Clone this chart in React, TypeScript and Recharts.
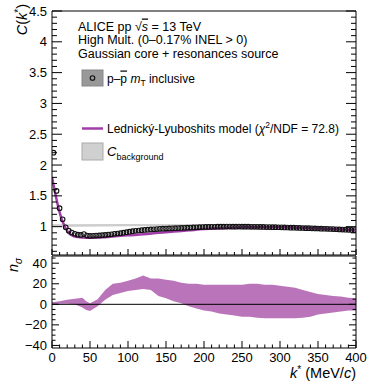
import { ComposedChart, Scatter, Line, Area, XAxis, YAxis, ReferenceLine } from 'recharts';

// bin centres of the p-pbar correlation (4 MeV/c bins)
const corrValues = [
  2.2, 1.58, 1.3, 1.12, 0.99, 0.935, 0.905, 0.885, 0.87, 0.865,
  0.88, 0.855, 0.85, 0.852, 0.855, 0.858, 0.862, 0.866, 0.872, 0.877,
  0.883, 0.889, 0.895, 0.903, 0.91, 0.918, 0.926, 0.933, 0.938, 0.943,
  0.947, 0.951, 0.955, 0.958, 0.961, 0.964, 0.967, 0.969, 0.971, 0.973,
  0.975, 0.977, 0.979, 0.981, 0.983, 0.985, 0.987, 0.99, 0.992, 0.994,
  0.995, 0.996, 0.997, 0.998, 0.999, 1.0, 1.0, 1.001, 1.001, 1.0,
  1.0, 1.001, 1.0, 0.999, 0.999, 0.998, 0.998, 0.997, 0.996, 0.995,
  0.994, 0.993, 0.992, 0.991, 0.99, 0.989, 0.987, 0.986, 0.984, 0.983,
  0.981, 0.98, 0.978, 0.976, 0.975, 0.973, 0.971, 0.97, 0.968, 0.966,
  0.964, 0.962, 0.96, 0.958, 0.955, 0.953, 0.951, 0.949, 0.947, 0.945,
];
const binWidth = 4;

const modelK = [0, 3, 6, 9, 12, 15, 18, 22, 26, 30, 35, 40, 50, 60, 70, 80, 100, 120, 140, 160, 180, 200, 230, 260, 300, 330, 360, 400];
const modelC = [1.8, 1.62, 1.44, 1.28, 1.15, 1.05, 0.97, 0.9, 0.86, 0.84, 0.83, 0.825, 0.82, 0.822, 0.83, 0.84, 0.86, 0.875, 0.9, 0.92, 0.94, 0.96, 0.98, 0.99, 0.99, 0.98, 0.965, 0.94];

const bgK = [0, 100, 200, 300, 400];
const bgLow = [0.995, 1.005, 1.005, 0.99, 0.955];
const bgHigh = [1.04, 1.045, 1.04, 1.025, 0.99];

const nsK = [0, 10, 20, 30, 40, 45, 50, 60, 70, 80, 90, 100, 110, 120, 130, 140, 150, 160, 170, 180, 190, 200, 210, 220, 230, 240, 250, 260, 270, 280, 290, 300, 310, 320, 330, 340, 350, 360, 370, 380, 390, 400];
const nsLow = [0, 0.5, 0.5, 0, -3, -5.5, -6.5, -2, 4.5, 9, 11, 13, 14, 15, 14, 8, 6, 3, 1, -2, -4, -6, -7, -9, -10, -11, -12, -12, -13, -13.5, -13.5, -13.5, -13.5, -13.5, -13, -12, -10, -9, -8, -7, -6, -6];
const nsHigh = [2, 3, 4.5, 5.5, 6.5, 3, 1, 5, 14, 20, 21, 23, 25, 28, 25, 25, 24, 23, 21, 20, 20, 19, 19, 19, 19, 19, 19, 20, 20, 19, 19, 18, 17, 16, 14, 12, 10, 9, 8, 7.5, 6.5, 6];

const kMajor = [0, 50, 100, 150, 200, 250, 300, 350, 400];
const cMajor = [1, 1.5, 2, 2.5, 3, 3.5, 4, 4.5];
const nsMajor = [-40, -20, 0, 20, 40];

const range = (a: number, b: number, s: number) => {
  const out: number[] = [];
  for (let v = a; v <= b + 1e-9; v += s) out.push(Math.round(v * 1000) / 1000);
  return out;
};
const kTicks = range(0, 400, 10);
const cTicks = range(0.6, 4.5, 0.1);
const nsTicks = range(-40, 45, 5);

const corrData = corrValues.map((c, i) => ({ k: binWidth / 2 + binWidth * i, c }));
const modelData = modelK.map((k, i) => ({ k, c: modelC[i] }));
const bgData = bgK.map((k, i) => ({ k, lo: bgLow[i], hi: bgHigh[i] }));
const nsData = nsK.map((k, i) => ({ k, lo: nsLow[i], hi: nsHigh[i] }));

const FONT = 'Liberation Sans, Arial, Helvetica, sans-serif';
const PURPLE = '#a23ca8';

const isIn = (v: number, list: number[]) => list.some((m) => Math.abs(m - v) < 1e-6);
const fmt = (v: number) => (v < 0 ? '\u2212' + String(-v) : String(v));

type Side = 'left' | 'right' | 'top' | 'bottom';
function makeTick(side: Side, majors: number[], big: number, small: number, labels: boolean) {
  return (props: any) => {
    const { x, y, payload } = props;
    const v = payload.value;
    const major = isIn(v, majors);
    const len = major ? big : small;
    let line;
    if (side === 'left') line = <line x1={x} x2={x + len} y1={y} y2={y} stroke="#000" />;
    else if (side === 'right') line = <line x1={x} x2={x - len} y1={y} y2={y} stroke="#000" />;
    else if (side === 'top') line = <line x1={x} x2={x} y1={y} y2={y + len} stroke="#000" />;
    else line = <line x1={x} x2={x} y1={y} y2={y - len} stroke="#000" />;
    let label = null;
    if (labels && major) {
      if (side === 'left')
        label = (
          <text x={x - 5} y={y + 4.5} textAnchor="end" fontSize={13} fontFamily={FONT} fill="#000">
            {fmt(v)}
          </text>
        );
      else if (side === 'bottom')
        label = (
          <text x={x} y={y + 14} textAnchor="middle" fontSize={13} fontFamily={FONT} fill="#000">
            {fmt(v)}
          </text>
        );
    }
    return (
      <g>
        {line}
        {label}
      </g>
    );
  };
}

const OpenCircle = (props: any) => {
  const { cx, cy } = props;
  if (cx == null || cy == null) return null;
  return <circle cx={cx} cy={cy} r={2.3} fill="none" stroke="#111" strokeWidth={1.1} />;
};

const axisLine = { stroke: '#000', strokeWidth: 1 };

export default function App() {
  return (
    <div style={{ position: 'absolute', left: 0, top: 0, width: 374, height: 386, background: '#fff' }}>
      <div style={{ position: 'absolute', left: 0, top: 0 }}>
        <ComposedChart width={374} height={256} margin={{ top: 10, right: 8, bottom: 0, left: 0 }}>
          <XAxis xAxisId="b" dataKey="k" type="number" domain={[0, 400]} ticks={kTicks} interval={0} allowDataOverflow
            orientation="bottom" height={1} tickSize={0} tickMargin={0} axisLine={axisLine}
            tick={makeTick('bottom', kMajor, 6, 3, false)} />
          <XAxis xAxisId="t" type="number" domain={[0, 400]} ticks={kTicks} interval={0} allowDataOverflow
            orientation="top" height={1} tickSize={0} tickMargin={0} axisLine={axisLine}
            tick={makeTick('top', kMajor, 8, 4, false)} />
          <YAxis yAxisId="l" type="number" domain={[0.54, 4.5]} ticks={cTicks} interval={0} allowDataOverflow
            width={52} tickSize={0} tickMargin={0} axisLine={axisLine}
            tick={makeTick('left', cMajor, 10, 5, true)} />
          <YAxis yAxisId="r" orientation="right" type="number" domain={[0.54, 4.5]} ticks={cTicks} interval={0}
            allowDataOverflow width={10} tickSize={0} tickMargin={0} axisLine={axisLine}
            tick={makeTick('right', cMajor, 10, 5, false)} />
          <Area xAxisId="b" yAxisId="l" data={bgData} dataKey={(d: any) => [d.lo, d.hi]} type="linear"
            fill="#cdcdcd" fillOpacity={1} stroke="none" isAnimationActive={false} />
          <Line xAxisId="b" yAxisId="l" data={modelData} dataKey="c" type="monotone" stroke={PURPLE}
            strokeWidth={2.5} dot={false} isAnimationActive={false} />
          <Scatter xAxisId="b" yAxisId="l" data={corrData} dataKey="c" shape={OpenCircle} isAnimationActive={false} />
        </ComposedChart>
      </div>
      <div style={{ position: 'absolute', left: 0, top: 255 }}>
        <ComposedChart width={374} height={131} margin={{ top: 0, right: 8, bottom: 18, left: 0 }}>
          <XAxis xAxisId="b" dataKey="k" type="number" domain={[0, 400]} ticks={kTicks} interval={0} allowDataOverflow
            orientation="bottom" height={20} tickSize={0} tickMargin={0} axisLine={axisLine}
            tick={makeTick('bottom', kMajor, 7, 3.5, true)} />
          <XAxis xAxisId="t" type="number" domain={[0, 400]} ticks={kTicks} interval={0} allowDataOverflow
            orientation="top" height={1} tickSize={0} tickMargin={0} axisLine={axisLine}
            tick={makeTick('top', kMajor, 5, 2.5, false)} />
          <YAxis yAxisId="l" type="number" domain={[-42.5, 47]} ticks={nsTicks} interval={0} allowDataOverflow
            width={52} tickSize={0} tickMargin={0} axisLine={axisLine}
            tick={makeTick('left', nsMajor, 7, 3.5, true)} />
          <YAxis yAxisId="r" orientation="right" type="number" domain={[-42.5, 47]} ticks={nsTicks} interval={0}
            allowDataOverflow width={10} tickSize={0} tickMargin={0} axisLine={axisLine}
            tick={makeTick('right', nsMajor, 7, 3.5, false)} />
          <ReferenceLine xAxisId="b" yAxisId="l" y={0} stroke="#000" strokeWidth={1} />
          <Area xAxisId="b" yAxisId="l" data={nsData} dataKey={(d: any) => [d.lo, d.hi]} type="linear"
            fill="#9c3a9c" fillOpacity={0.7} stroke="none" isAnimationActive={false} />
        </ComposedChart>
      </div>
      <svg width={374} height={386} style={{ position: 'absolute', left: 0, top: 0, pointerEvents: 'none' }}
        fontFamily={FONT}>
        {/* axis titles */}
        <text transform="translate(27,4) rotate(-90)" textAnchor="end" fontSize={14.5}>
          <tspan fontStyle="italic">C</tspan>(<tspan fontStyle="italic">k</tspan>
          <tspan dy={-5} fontSize={10}>*</tspan>
          <tspan dy={5}>)</tspan>
        </text>
        <text transform="translate(18,258) rotate(-90)" textAnchor="end" fontSize={14.5}>
          <tspan fontStyle="italic">n</tspan>
          <tspan dy={4} fontSize={10} fontStyle="italic">σ</tspan>
        </text>
        <text x={356} y={378} textAnchor="end" fontSize={14.5}>
          <tspan fontStyle="italic">k</tspan>
          <tspan dy={-5} fontSize={10}>*</tspan>
          <tspan dy={5}> (MeV/</tspan>
          <tspan fontStyle="italic">c</tspan>)
        </text>
        {/* header */}
        <text x={78} y={30.5} fontSize={12.5}>
          ALICE pp √<tspan fontStyle="italic" textDecoration="overline">s</tspan> = 13 TeV
        </text>
        <text x={78} y={44} fontSize={12.5}>High Mult. (0–0.17% INEL &gt; 0)</text>
        <text x={78} y={57.5} fontSize={12.5}>Gaussian core + resonances source</text>
        {/* legend */}
        <rect x={82} y={70} width={21} height={16} fill="#999" stroke="#888" />
        <circle cx={92.5} cy={78} r={2.3} fill="none" stroke="#111" strokeWidth={1.1} />
        <text x={107} y={82.5} fontSize={12}>
          p–<tspan textDecoration="overline">p</tspan> <tspan fontStyle="italic">m</tspan>
          <tspan dy={3} fontSize={8.5}>T</tspan>
          <tspan dy={-3}> inclusive</tspan>
        </text>
        <line x1={82} x2={103} y1={128.5} y2={128.5} stroke={PURPLE} strokeWidth={2.5} />
        <text x={107} y={132.5} fontSize={12}>
          Lednický-Lyuboshits model (<tspan fontStyle="italic">χ</tspan>
          <tspan dy={-5} fontSize={8.5}>2</tspan>
          <tspan dy={5}>/NDF = 72.8)</tspan>
        </text>
        <rect x={82} y={143} width={21} height={17} fill="#d0d0d0" stroke="#aaa" />
        <text x={107} y={156} fontSize={13}>
          <tspan fontStyle="italic">C</tspan>
          <tspan dy={4} fontSize={9}>background</tspan>
        </text>
      </svg>
    </div>
  );
}
